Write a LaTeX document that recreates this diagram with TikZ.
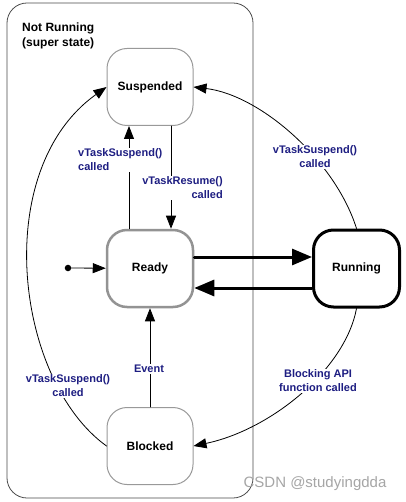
\documentclass[tikz,border=0pt]{standalone}
\usepackage{fontspec}
\setmainfont{Liberation Sans}
\usetikzlibrary{arrows.meta}
\definecolor{lbl}{HTML}{1E1E82}
\begin{document}
\begin{tikzpicture}[x=1pt, y=-1pt, line join=round, line cap=round,
  >={Triangle[length=13pt,width=10pt]},
  state/.style={draw=gray!80, line width=1pt, rounded corners=20pt, minimum width=86pt, minimum height=77pt, font=\fontsize{12}{14}\selectfont\bfseries, fill=white},
  lbl/.style={text=lbl, fill=white, inner sep=1pt, font=\fontsize{11}{14}\selectfont\bfseries},
  thick arrow/.style={line width=3pt, -{Triangle[length=20pt,width=16pt]}}]
 \def\xmin{0}\def\xmax{405}\def\ymin{0}\def\ymax{502}
 \useasboundingbox (\xmin,\ymin) rectangle (\xmax,\ymax);
 \fill[white] (\xmin,\ymin) rectangle (\xmax,\ymax);
 \node[draw=black!70, line width=0.8pt, rounded corners=20pt, minimum width=246pt, minimum height=495pt] (super) at (130,250.5) {};
 \node[anchor=north west, align=left, inner sep=0pt, font=\fontsize{12}{15}\selectfont\bfseries] (title) at (22,23) {Not Running\\(super state)};
 \node[state] (Suspended) at (150,87) {Suspended};
 \node[state, draw=gray!85, line width=2.5pt] (Ready) at (150,268.5) {Ready};
 \node[state, draw=black, line width=3pt] (Running) at (356.5,268.5) {Running};
 \node[state] (Blocked) at (150,446) {Blocked};
 \node[circle, fill, inner sep=2.3pt] (init) at (68,268) {};
 \draw[->, line width=0.8pt] (init) -- (Ready);
 \draw[->, line width=0.8pt] ([xshift=-21pt]Ready.north) -- ([xshift=-21pt]Suspended.south);
 \draw[->, line width=0.8pt] ([xshift=21pt]Suspended.south) -- ([xshift=21pt]Ready.north);
 \draw[->, line width=0.8pt] (Blocked) -- (Ready);
 \draw[thick arrow] ([yshift=11.5pt]Ready.east) -- ([yshift=11.5pt]Running.west);
 \draw[thick arrow] ([yshift=-19.5pt]Running.west) -- ([yshift=-19.5pt]Ready.east);
 \draw[->, line width=0.8pt] (Running.north) .. controls (335,160) and (260,95) .. (Suspended.east);
 \draw[->, line width=0.8pt] (Running.south) .. controls (345,370) and (270,430) .. (Blocked.east);
 \draw[->, line width=0.8pt] (Blocked.west) .. controls (15,380) and (-10,170) .. (Suspended.west);
 \node[lbl, anchor=west, align=left] (l1) at (77,160) {vTaskSuspend()\\called};
 \node[lbl, anchor=east, align=right] (l2) at (224,188) {vTaskResume()\\called};
 \node[lbl, align=center] (l3) at (315,157) {vTaskSuspend()\\called};
 \node[lbl] (l4) at (149,369) {Event};
 \node[lbl, align=center] (l5) at (318,381) {Blocking API\\function called};
 \node[lbl, align=center] (l6) at (68,386) {vTaskSuspend()\\called};
 \node[text=gray!70, font=\fontsize{15}{18}\selectfont] (mark) at (315,484) {CSDN @studyingdda};
\end{tikzpicture}
\end{document}
